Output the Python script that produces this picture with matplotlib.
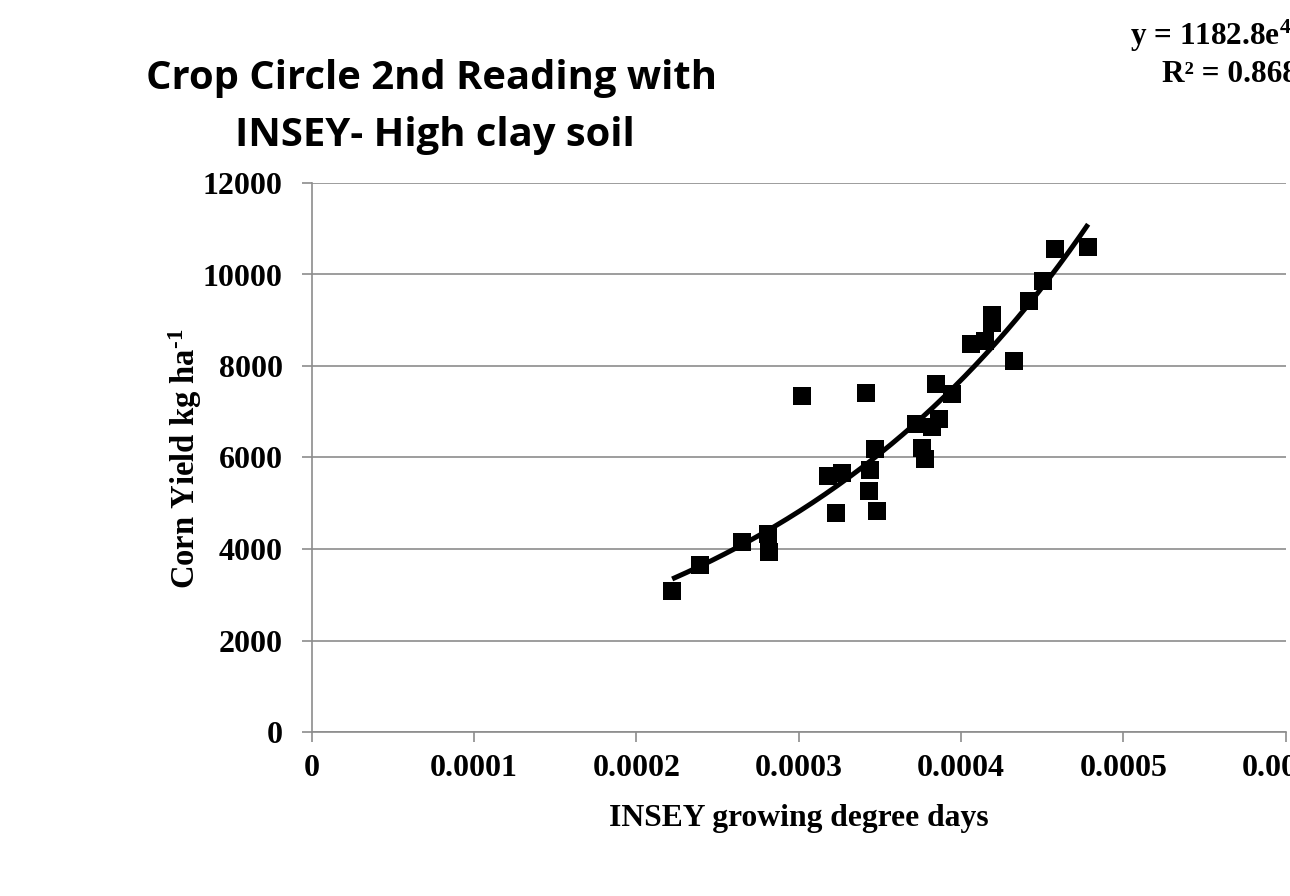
import matplotlib
matplotlib.use('Agg')
import matplotlib.pyplot as plt
import numpy as np

# Data (INSEY vs corn yield)
insey = [0.0002221, 0.0002392, 0.0002653, 0.0002813, 0.0002817, 0.0003022,
         0.0003182, 0.0003269, 0.0003228, 0.0003415, 0.0003470, 0.0003439,
         0.0003435, 0.0003481, 0.0003723, 0.0003823, 0.0003866, 0.0003846,
         0.0003943, 0.0003758, 0.0003778, 0.0004060, 0.0004148, 0.0004189,
         0.0004189, 0.0004328, 0.0004417, 0.0004503, 0.0004579, 0.0004784]
yield_kg = [3082, 3650, 4146, 4328, 3941, 7344,
            5596, 5661, 4780, 7403, 6179, 5727,
            5274, 4837, 6732, 6660, 6835, 7607,
            7381, 6201, 5967, 8481, 8553, 9115,
            8947, 8109, 9421, 9858, 10557, 10595]

# exponential trendline y = a * exp(b x)
trend_a = 1182.8
trend_b = 4680
r_squared = 0.8681

x_ticks = [0, 0.0001, 0.0002, 0.0003, 0.0004, 0.0005, 0.0006]
x_tick_labels = ['0', '0.0001', '0.0002', '0.0003', '0.0004', '0.0005', '0.0006']
y_ticks = [0, 2000, 4000, 6000, 8000, 10000, 12000]

plt.rcParams['mathtext.fontset'] = 'custom'
plt.rcParams['mathtext.rm'] = 'Liberation Serif:bold'
plt.rcParams['mathtext.bf'] = 'Liberation Serif:bold'
plt.rcParams['mathtext.it'] = 'Liberation Serif:bold'

W, H = 1290, 896
fig = plt.figure(figsize=(W / 100, H / 100), dpi=100)


def fx(px):
    return px / W


def fy(py):
    return 1 - py / H


ax = fig.add_axes([fx(311.7), fy(732), fx(1285.5) - fx(311.7), fy(183) - fy(732)])

grey = '#8c8c8c'
serif = 'Liberation Serif'

ax.scatter(insey, yield_kg, marker='s', s=13.5 ** 2, color='black', zorder=3, linewidths=0)

xt = np.linspace(min(insey), max(insey), 200)
ax.plot(xt, trend_a * np.exp(trend_b * xt), color='black', linewidth=3.6, zorder=4,
        solid_capstyle='butt')

ax.set_xlim(0, 0.0006)
ax.set_ylim(0, 12000)
ax.set_xticks(x_ticks)
ax.set_xticklabels(x_tick_labels)
ax.set_yticks(y_ticks)
ax.set_yticklabels([str(v) for v in y_ticks])

ax.grid(axis='y', color=grey, linewidth=1.2)
ax.set_axisbelow(True)
for side in ['top', 'right']:
    ax.spines[side].set_visible(False)
for side in ['left', 'bottom']:
    ax.spines[side].set_color(grey)
    ax.spines[side].set_linewidth(1.2)

ax.tick_params(axis='both', direction='out', length=7, width=1.2, color=grey,
               labelsize=23, labelcolor='black')
ax.tick_params(axis='y', pad=14)
ax.tick_params(axis='x', pad=9)
for lab in ax.get_xticklabels() + ax.get_yticklabels():
    lab.set_fontfamily(serif)
    lab.set_fontweight('bold')

# titles and labels
fig.text(fx(432), fy(89), 'Crop Circle 2nd Reading with', ha='center', va='baseline',
         fontsize=28.8, fontweight='bold', family='Open Sans')
fig.text(fx(435), fy(146), 'INSEY- High clay soil', ha='center', va='baseline',
         fontsize=28.8, fontweight='bold', family='Open Sans')

fig.text(fx(799), fy(826), 'INSEY growing degree days', ha='center', va='baseline',
         fontsize=22.8, fontweight='bold', family=serif)
fig.text(fx(185), fy(459), r'Corn Yield kg ha$^{\text{-}1}$', ha='center', va='center',
         rotation=90, fontsize=23.5, fontweight='bold', family=serif)

# trendline equation (runs off the right edge as in the original)
fig.text(fx(1130), fy(45), r'y = 1182.8e$^{\mathbf{%dx}}$' % trend_b, ha='left', va='baseline',
         fontsize=22.5, fontweight='bold', family=serif)
fig.text(fx(1162), fy(82), 'R\u00b2 = %.4f' % r_squared, ha='left', va='baseline',
         fontsize=22.5, fontweight='bold', family=serif)

plt.savefig('out.png', dpi=100)
plt.close()
